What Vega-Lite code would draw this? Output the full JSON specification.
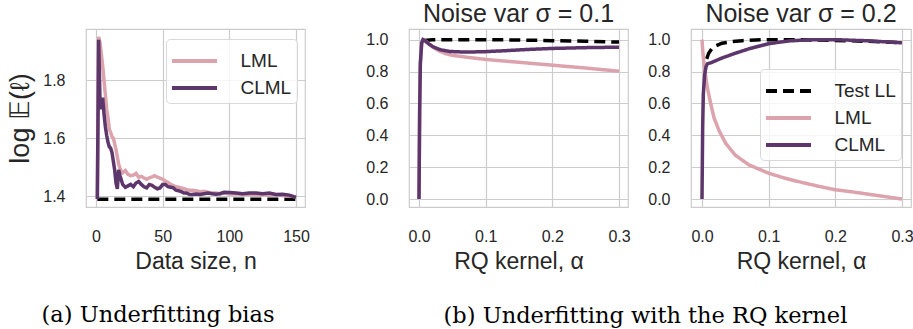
{
  "$schema": "https://vega.github.io/schema/vega-lite/v6.json",
  "padding": {"left": 6, "top": 1, "right": 0, "bottom": 0},
  "background": "white",
  "datasets": {
    "p1": [
      {"s":"Test","x":1,"y":1.389},{"s":"Test","x":150,"y":1.389},
      {"s":"LML","x":1,"y":1.39},{"s":"LML","x":2,"y":1.95},{"s":"LML","x":3,"y":1.93},{"s":"LML","x":4,"y":1.89},{"s":"LML","x":5,"y":1.85},{"s":"LML","x":6,"y":1.80},{"s":"LML","x":7,"y":1.75},{"s":"LML","x":8,"y":1.70},{"s":"LML","x":9,"y":1.67},{"s":"LML","x":10,"y":1.63},{"s":"LML","x":11,"y":1.62},{"s":"LML","x":12,"y":1.605},{"s":"LML","x":13,"y":1.60},{"s":"LML","x":14,"y":1.58},{"s":"LML","x":15,"y":1.56},{"s":"LML","x":16,"y":1.535},{"s":"LML","x":17,"y":1.51},{"s":"LML","x":18,"y":1.495},{"s":"LML","x":19,"y":1.485},{"s":"LML","x":20,"y":1.48},{"s":"LML","x":22,"y":1.488},{"s":"LML","x":24,"y":1.475},{"s":"LML","x":26,"y":1.47},{"s":"LML","x":28,"y":1.472},{"s":"LML","x":30,"y":1.478},{"s":"LML","x":32,"y":1.465},{"s":"LML","x":34,"y":1.468},{"s":"LML","x":36,"y":1.462},{"s":"LML","x":38,"y":1.458},{"s":"LML","x":40,"y":1.463},{"s":"LML","x":42,"y":1.466},{"s":"LML","x":44,"y":1.47},{"s":"LML","x":46,"y":1.465},{"s":"LML","x":48,"y":1.462},{"s":"LML","x":50,"y":1.458},{"s":"LML","x":52,"y":1.452},{"s":"LML","x":54,"y":1.447},{"s":"LML","x":56,"y":1.44},{"s":"LML","x":58,"y":1.436},{"s":"LML","x":60,"y":1.432},{"s":"LML","x":62,"y":1.43},{"s":"LML","x":64,"y":1.428},{"s":"LML","x":66,"y":1.425},{"s":"LML","x":68,"y":1.422},{"s":"LML","x":70,"y":1.42},{"s":"LML","x":72,"y":1.42},{"s":"LML","x":75,"y":1.418},{"s":"LML","x":78,"y":1.415},{"s":"LML","x":81,"y":1.416},{"s":"LML","x":84,"y":1.413},{"s":"LML","x":87,"y":1.41},{"s":"LML","x":90,"y":1.41},{"s":"LML","x":93,"y":1.408},{"s":"LML","x":96,"y":1.41},{"s":"LML","x":100,"y":1.407},{"s":"LML","x":105,"y":1.408},{"s":"LML","x":110,"y":1.405},{"s":"LML","x":115,"y":1.406},{"s":"LML","x":120,"y":1.404},{"s":"LML","x":125,"y":1.405},{"s":"LML","x":130,"y":1.403},{"s":"LML","x":135,"y":1.404},{"s":"LML","x":140,"y":1.402},{"s":"LML","x":145,"y":1.40},{"s":"LML","x":150,"y":1.397},
      {"s":"CLML","x":1,"y":1.39},{"s":"CLML","x":2,"y":1.94},{"s":"CLML","x":3,"y":1.73},{"s":"CLML","x":4,"y":1.70},{"s":"CLML","x":5,"y":1.74},{"s":"CLML","x":6,"y":1.685},{"s":"CLML","x":7,"y":1.64},{"s":"CLML","x":8,"y":1.61},{"s":"CLML","x":9,"y":1.585},{"s":"CLML","x":10,"y":1.57},{"s":"CLML","x":11,"y":1.565},{"s":"CLML","x":12,"y":1.55},{"s":"CLML","x":13,"y":1.52},{"s":"CLML","x":14,"y":1.49},{"s":"CLML","x":15,"y":1.445},{"s":"CLML","x":16,"y":1.425},{"s":"CLML","x":17,"y":1.49},{"s":"CLML","x":18,"y":1.47},{"s":"CLML","x":19,"y":1.455},{"s":"CLML","x":20,"y":1.44},{"s":"CLML","x":22,"y":1.43},{"s":"CLML","x":24,"y":1.435},{"s":"CLML","x":26,"y":1.44},{"s":"CLML","x":28,"y":1.432},{"s":"CLML","x":30,"y":1.445},{"s":"CLML","x":32,"y":1.45},{"s":"CLML","x":34,"y":1.44},{"s":"CLML","x":36,"y":1.432},{"s":"CLML","x":38,"y":1.428},{"s":"CLML","x":40,"y":1.44},{"s":"CLML","x":42,"y":1.437},{"s":"CLML","x":44,"y":1.43},{"s":"CLML","x":46,"y":1.425},{"s":"CLML","x":48,"y":1.428},{"s":"CLML","x":50,"y":1.44},{"s":"CLML","x":52,"y":1.44},{"s":"CLML","x":54,"y":1.432},{"s":"CLML","x":56,"y":1.43},{"s":"CLML","x":58,"y":1.428},{"s":"CLML","x":60,"y":1.42},{"s":"CLML","x":62,"y":1.418},{"s":"CLML","x":64,"y":1.415},{"s":"CLML","x":66,"y":1.41},{"s":"CLML","x":68,"y":1.41},{"s":"CLML","x":70,"y":1.406},{"s":"CLML","x":72,"y":1.405},{"s":"CLML","x":75,"y":1.407},{"s":"CLML","x":78,"y":1.405},{"s":"CLML","x":81,"y":1.408},{"s":"CLML","x":84,"y":1.41},{"s":"CLML","x":87,"y":1.408},{"s":"CLML","x":90,"y":1.406},{"s":"CLML","x":93,"y":1.408},{"s":"CLML","x":96,"y":1.413},{"s":"CLML","x":100,"y":1.412},{"s":"CLML","x":105,"y":1.41},{"s":"CLML","x":110,"y":1.408},{"s":"CLML","x":115,"y":1.41},{"s":"CLML","x":120,"y":1.41},{"s":"CLML","x":125,"y":1.408},{"s":"CLML","x":130,"y":1.41},{"s":"CLML","x":135,"y":1.405},{"s":"CLML","x":140,"y":1.406},{"s":"CLML","x":145,"y":1.403},{"s":"CLML","x":150,"y":1.395}
    ],
    "p2": [
      {"s":"Test LL","x":0.008,"y":0.995},{"s":"Test LL","x":0.02,"y":1.0},{"s":"Test LL","x":0.05,"y":1.0},{"s":"Test LL","x":0.1,"y":1.0},{"s":"Test LL","x":0.15,"y":0.998},{"s":"Test LL","x":0.2,"y":0.994},{"s":"Test LL","x":0.25,"y":0.99},{"s":"Test LL","x":0.3,"y":0.985},
      {"s":"LML","x":0,"y":0},{"s":"LML","x":0.001,"y":0.6},{"s":"LML","x":0.002,"y":0.85},{"s":"LML","x":0.004,"y":0.97},{"s":"LML","x":0.006,"y":1.0},{"s":"LML","x":0.01,"y":0.99},{"s":"LML","x":0.02,"y":0.955},{"s":"LML","x":0.03,"y":0.93},{"s":"LML","x":0.04,"y":0.912},{"s":"LML","x":0.05,"y":0.902},{"s":"LML","x":0.075,"y":0.888},{"s":"LML","x":0.1,"y":0.876},{"s":"LML","x":0.15,"y":0.858},{"s":"LML","x":0.2,"y":0.84},{"s":"LML","x":0.25,"y":0.822},{"s":"LML","x":0.3,"y":0.802},
      {"s":"CLML","x":0,"y":0},{"s":"CLML","x":0.001,"y":0.55},{"s":"CLML","x":0.002,"y":0.85},{"s":"CLML","x":0.004,"y":0.98},{"s":"CLML","x":0.006,"y":1.0},{"s":"CLML","x":0.01,"y":0.99},{"s":"CLML","x":0.015,"y":0.972},{"s":"CLML","x":0.022,"y":0.954},{"s":"CLML","x":0.032,"y":0.937},{"s":"CLML","x":0.046,"y":0.926},{"s":"CLML","x":0.07,"y":0.922},{"s":"CLML","x":0.1,"y":0.925},{"s":"CLML","x":0.13,"y":0.931},{"s":"CLML","x":0.16,"y":0.938},{"s":"CLML","x":0.2,"y":0.945},{"s":"CLML","x":0.25,"y":0.95},{"s":"CLML","x":0.3,"y":0.953}
    ],
    "p3": [
      {"s":"Test LL","x":0.007,"y":0.88},{"s":"Test LL","x":0.01,"y":0.915},{"s":"Test LL","x":0.015,"y":0.945},{"s":"Test LL","x":0.02,"y":0.96},{"s":"Test LL","x":0.03,"y":0.978},{"s":"Test LL","x":0.045,"y":0.988},{"s":"Test LL","x":0.06,"y":0.994},{"s":"Test LL","x":0.08,"y":0.998},{"s":"Test LL","x":0.1,"y":1.0},{"s":"Test LL","x":0.15,"y":1.0},{"s":"Test LL","x":0.2,"y":0.995},{"s":"Test LL","x":0.25,"y":0.99},{"s":"Test LL","x":0.3,"y":0.98},
      {"s":"LML","x":0,"y":1.0},{"s":"LML","x":0.0015,"y":0.91},{"s":"LML","x":0.0045,"y":0.80},{"s":"LML","x":0.008,"y":0.70},{"s":"LML","x":0.013,"y":0.60},{"s":"LML","x":0.018,"y":0.51},{"s":"LML","x":0.0255,"y":0.43},{"s":"LML","x":0.0355,"y":0.35},{"s":"LML","x":0.05,"y":0.275},{"s":"LML","x":0.07,"y":0.215},{"s":"LML","x":0.1,"y":0.162},{"s":"LML","x":0.125,"y":0.13},{"s":"LML","x":0.15,"y":0.104},{"s":"LML","x":0.175,"y":0.08},{"s":"LML","x":0.2,"y":0.058},{"s":"LML","x":0.225,"y":0.045},{"s":"LML","x":0.25,"y":0.03},{"s":"LML","x":0.275,"y":0.015},{"s":"LML","x":0.3,"y":0.0},
      {"s":"CLML","x":0,"y":0},{"s":"CLML","x":0.001,"y":0.45},{"s":"CLML","x":0.002,"y":0.66},{"s":"CLML","x":0.004,"y":0.78},{"s":"CLML","x":0.006,"y":0.83},{"s":"CLML","x":0.008,"y":0.848},{"s":"CLML","x":0.015,"y":0.858},{"s":"CLML","x":0.03,"y":0.885},{"s":"CLML","x":0.05,"y":0.915},{"s":"CLML","x":0.07,"y":0.942},{"s":"CLML","x":0.1,"y":0.975},{"s":"CLML","x":0.13,"y":0.992},{"s":"CLML","x":0.16,"y":0.999},{"s":"CLML","x":0.2,"y":1.0},{"s":"CLML","x":0.25,"y":0.993},{"s":"CLML","x":0.3,"y":0.98}
    ]
  },
  "config": {
    "font": "Liberation Sans",
    "view": {"stroke": "#cccccc", "strokeWidth": 1.2},
    "axis": {"grid": true, "gridColor": "#cccccc", "gridWidth": 1.2, "domain": false, "ticks": false, "labelFontSize": 16, "labelColor": "#262626", "titleFontSize": 23, "titleFontWeight": "normal", "titleColor": "#262626", "labelPadding": 21},
    "axisX": {"titlePadding": 6, "labelPadding": 21},
    "axisY": {"titlePadding": 8},
    "title": {"fontSize": 25, "fontWeight": "normal", "color": "#262626"},
    "legend": {"title": null, "symbolType": "M-1.5,0H1.5", "symbolSize": 900, "symbolStrokeWidth": 4, "symbolOffset": 6.5, "labelOffset": 29, "labelFontSize": 19, "labelColor": "#262626", "fillColor": "rgba(255,255,255,0.8)", "strokeColor": "#d9d9d9", "cornerRadius": 4, "padding": 5, "rowPadding": 0}
  },
  "resolve": {"scale": {"color": "independent", "strokeDash": "independent", "x": "independent", "y": "independent"}, "legend": {"color": "independent", "strokeDash": "independent"}},
  "spacing": 55,
  "hconcat": [
    {
      "width": 219, "height": 178,
      "data": {"name": "p1"},
      "title": {"text": "(a) Underfitting bias", "orient": "bottom", "font": "DejaVu Serif", "fontSize": 22.5, "frame": "bounds", "anchor": "middle", "offset": 31, "color": "black"},
      "encoding": {
        "x": {"field": "x", "type": "quantitative", "scale": {"domain": [-7.5, 156.75], "nice": false, "zero": false}, "axis": {"values": [0, 50, 100, 150], "title": "Data size, n"}},
        "y": {"field": "y", "type": "quantitative", "scale": {"domain": [1.362, 1.977], "nice": false, "zero": false}, "axis": {"values": [1.4, 1.6, 1.8], "format": ".1f", "title": "log 𝔼(ℓ)", "titleFontSize": 27}}
      },
      "layer": [
        {"transform": [{"filter": "datum.s === 'Test'"}], "mark": {"type": "line", "color": "black", "strokeWidth": 3.5, "strokeDash": [11, 6]}},
        {"transform": [{"filter": "datum.s === 'LML'"}], "mark": {"type": "line", "strokeWidth": 3.5},
         "encoding": {"color": {"field": "s", "type": "nominal", "scale": {"domain": ["LML", "CLML"], "range": ["#dca3ad", "#5d366b"]}, "legend": {"orient": "none", "legendX": 80, "legendY": 10}}}},
        {"transform": [{"filter": "datum.s === 'CLML'"}], "mark": {"type": "line", "strokeWidth": 3.5},
         "encoding": {"color": {"field": "s", "type": "nominal", "scale": {"domain": ["LML", "CLML"], "range": ["#dca3ad", "#5d366b"]}, "legend": {"orient": "none", "legendX": 80, "legendY": 10}}}}
      ]
    },
    {
      "spacing": 16,
      "resolve": {"scale": {"color": "independent", "strokeDash": "independent", "x": "independent", "y": "independent"}, "legend": {"color": "independent", "strokeDash": "independent"}},
      "title": {"text": "(b) Underfitting with the RQ kernel", "orient": "bottom", "font": "DejaVu Serif", "fontSize": 22.5, "frame": "bounds", "anchor": "middle", "offset": 31, "dx": 6, "color": "black"},
      "hconcat": [
        {
          "width": 219, "height": 178,
          "data": {"name": "p2"},
          "title": {"text": "Noise var σ = 0.1", "offset": 2},
          "encoding": {
            "x": {"field": "x", "type": "quantitative", "scale": {"domain": [-0.015, 0.3135], "nice": false, "zero": false}, "axis": {"values": [0, 0.1, 0.2, 0.3], "format": ".1f", "title": "RQ kernel, α"}},
            "y": {"field": "y", "type": "quantitative", "scale": {"domain": [-0.05, 1.067], "nice": false, "zero": false}, "axis": {"values": [0, 0.2, 0.4, 0.6, 0.8, 1.0], "format": ".1f", "title": null}},
            "color": {"field": "s", "type": "nominal", "scale": {"domain": ["Test LL", "LML", "CLML"], "range": ["black", "#dca3ad", "#5d366b"]}, "legend": null},
            "strokeDash": {"field": "s", "type": "nominal", "scale": {"domain": ["Test LL", "LML", "CLML"], "range": [[11, 6], [1, 0], [1, 0]]}, "legend": null}
          },
          "layer": [
            {"transform": [{"filter": "datum.s === 'Test LL'"}], "mark": {"type": "line", "strokeWidth": 3.5}},
            {"transform": [{"filter": "datum.s === 'LML'"}], "mark": {"type": "line", "strokeWidth": 3.5}},
            {"transform": [{"filter": "datum.s === 'CLML'"}], "mark": {"type": "line", "strokeWidth": 3.5}}
          ]
        },
        {
          "width": 220, "height": 178,
          "data": {"name": "p3"},
          "title": {"text": "Noise var σ = 0.2", "offset": 2},
          "encoding": {
            "x": {"field": "x", "type": "quantitative", "scale": {"domain": [-0.0165, 0.3135], "nice": false, "zero": false}, "axis": {"values": [0, 0.1, 0.2, 0.3], "format": ".1f", "title": "RQ kernel, α"}},
            "y": {"field": "y", "type": "quantitative", "scale": {"domain": [-0.05, 1.067], "nice": false, "zero": false}, "axis": {"values": [0, 0.2, 0.4, 0.6, 0.8, 1.0], "format": ".1f", "title": null}},
            "color": {"field": "s", "type": "nominal", "scale": {"domain": ["Test LL", "LML", "CLML"], "range": ["black", "#dca3ad", "#5d366b"]}, "legend": {"orient": "none", "legendX": 69, "legendY": 40}},
            "strokeDash": {"field": "s", "type": "nominal", "scale": {"domain": ["Test LL", "LML", "CLML"], "range": [[11, 6], [1, 0], [1, 0]]}, "legend": {"orient": "none", "legendX": 69, "legendY": 40}}
          },
          "layer": [
            {"transform": [{"filter": "datum.s === 'Test LL'"}], "mark": {"type": "line", "strokeWidth": 3.5}},
            {"transform": [{"filter": "datum.s === 'LML'"}], "mark": {"type": "line", "strokeWidth": 3.5}},
            {"transform": [{"filter": "datum.s === 'CLML'"}], "mark": {"type": "line", "strokeWidth": 3.5}}
          ]
        }
      ]
    }
  ]
}
